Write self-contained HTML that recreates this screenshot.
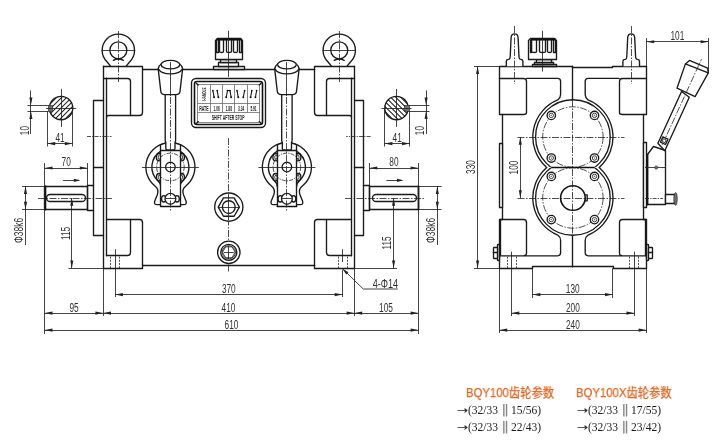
<!DOCTYPE html>
<html><head><meta charset="utf-8"><title>BQY100</title>
<style>
html,body{margin:0;padding:0;background:#fff;}
body{width:720px;height:446px;overflow:hidden;position:relative;font-family:"Liberation Sans","Noto Sans CJK SC",sans-serif;}
svg{position:absolute;left:0;top:0;display:block;}
.k{fill:none;stroke:#1a1a1a;stroke-width:1.35;stroke-linecap:round;stroke-linejoin:round;}
.kk{fill:none;stroke:#111;stroke-width:1.6;stroke-linecap:round;stroke-linejoin:round;}
.kw{fill:#fff;stroke:#1a1a1a;stroke-width:1.35;stroke-linecap:round;stroke-linejoin:round;}
.kk2{fill:none;stroke:#111;stroke-width:2.2;}
.t{fill:none;stroke:#222;stroke-width:0.85;}
.t2{fill:none;stroke:#333;stroke-width:0.55;}
.tg{fill:none;stroke:#6a6a6a;stroke-width:0.8;}
.gd{fill:#777;stroke:none;}
.ht{fill:none;stroke:#222;stroke-width:1.05;}
.ic{fill:none;stroke:#111;stroke-width:1.05;stroke-linecap:round;}
.dot{fill:#111;stroke:none;}
.tw{fill:#fff;stroke:#2a2a2a;stroke-width:0.75;}
.c{fill:none;stroke:#222;stroke-width:0.8;stroke-dasharray:7 1.5 1.5 1.5;}
.cs{fill:none;stroke:#222;stroke-width:0.8;stroke-dasharray:4 1.2 1.2 1.2;}
.h{fill:none;stroke:#222;stroke-width:0.8;stroke-dasharray:2 1.2;}
.ar{fill:#222;stroke:none;}
.g{fill:#707070;stroke:#222;stroke-width:0.6;}
.dt{font-family:"Liberation Sans",sans-serif;fill:#303030;}
.nt{font-family:"Liberation Sans",sans-serif;fill:#222;font-weight:bold;}
.hd{position:absolute;color:#e8641e;font-size:12.8px;line-height:16px;height:16px;white-space:nowrap;font-family:"Liberation Sans","Noto Sans CJK SC",sans-serif;transform-origin:0 0;transform:scaleX(0.885);will-change:transform;-webkit-text-stroke:0.25px #e8641e;}
.ln{position:absolute;color:#1a1a1a;font-size:13px;line-height:16px;height:16px;width:100px;white-space:nowrap;font-family:"Liberation Serif","Noto Serif CJK SC",serif;filter:grayscale(1);}
.ln span{position:absolute;top:0;display:block;transform-origin:0 0;}
.aw{left:0;transform:scaleX(1.3);font-family:"DejaVu Sans","Liberation Serif",sans-serif;font-size:10.5px;}
.p1{left:11.2px;transform:scaleX(0.885);}
.dv{left:43.9px;color:#888;font-family:"DejaVu Sans","Liberation Serif",sans-serif;font-size:12px;transform:scaleX(1.4);}
.p2{left:53.4px;transform:scaleX(0.885);}
</style></head>
<body>
<svg width="720" height="446" viewBox="0 0 720 446" style="filter:grayscale(1)">
<path class="k" d="M103.5 66.2L103.5 268.3"/>
<path class="k" d="M106.5 78.2L106.5 255.8"/>
<path class="k" d="M103.5 66.5L142.5 66.5L142.5 112.5Q142.5 115.5 139.5 115.5L108.5 115.5Q106.5 115.5 106.5 117.5"/>
<path class="k" d="M103.5 78.5L127.5 78.5Q130.5 78.5 130.5 81.5L130.5 115.5"/>
<path class="k" d="M106.5 219.5L139.5 219.5Q142.5 219.5 142.5 222.5L142.5 268.5L103.5 268.5"/>
<path class="k" d="M130.5 219.5L130.5 252.5Q130.5 255.5 127.5 255.5L106.5 255.5"/>
<path class="h" d="M110.5 256.6L110.5 268"/>
<path class="h" d="M119.5 256.6L119.5 268"/>
<path class="t" d="M115.5 249.2L115.5 262"/>
<path class="k" d="M103.5 100.5L93.5 100.5L93.5 235.5L103.5 235.5"/>
<path class="k" d="M93.5 185.5L87.5 185.5L87.5 210.5L93.5 210.5"/>
<path class="cs" d="M87 136.5L111.5 136.5"/>
<path class="k" d="M110.55 66.2L107.15 62 A16.2 16.2 0 1 1 129.55 62L126.15 66.2"/>
<circle class="k" cx="118.35" cy="50.3" r="8.5"/>
<path class="k" d="M113.35 60.4Q118.35 57.6 123.35 60.4"/>
<path class="t" d="M101.55 50.5L135.15 50.5"/>
<path class="c" d="M118.5 31L118.5 82"/>
<path class="k" d="M354.5 66.2L354.5 268.3"/>
<path class="k" d="M351.5 78.2L351.5 255.8"/>
<path class="k" d="M354.5 66.5L314.5 66.5L314.5 112.5Q314.5 115.5 317.5 115.5L349.5 115.5Q351.5 115.5 351.5 117.5"/>
<path class="k" d="M354.5 78.5L329.5 78.5Q326.5 78.5 326.5 81.5L326.5 115.5"/>
<path class="k" d="M351.5 219.5L317.5 219.5Q314.5 219.5 314.5 222.5L314.5 268.5L354.5 268.5"/>
<path class="k" d="M326.5 219.5L326.5 252.5Q326.5 255.5 329.5 255.5L351.5 255.5"/>
<path class="h" d="M347.5 256.6L347.5 268"/>
<path class="h" d="M338.5 256.6L338.5 268"/>
<path class="t" d="M342.5 249.2L342.5 262"/>
<path class="k" d="M354.5 100.5L363.5 100.5L363.5 235.5L354.5 235.5"/>
<path class="k" d="M363.5 185.5L369.5 185.5L369.5 210.5L363.5 210.5"/>
<path class="cs" d="M370.6 136.5L346.1 136.5"/>
<path class="k" d="M331.45 66.2L328.05 62 A16.2 16.2 0 1 1 350.45 62L347.05 66.2"/>
<circle class="k" cx="339.25" cy="50.3" r="8.5"/>
<path class="k" d="M334.25 60.4Q339.25 57.6 344.25 60.4"/>
<path class="t" d="M322.45 50.5L356.05 50.5"/>
<path class="c" d="M339.5 31L339.5 82"/>
<path class="k" d="M142.9 69.5L314.7 69.5"/>
<path class="k" d="M142.9 265.5L314.7 265.5"/>
<rect class="k" x="44.5" y="186.5" width="43" height="23" rx="0"/>
<path class="kk" d="M45.5 186.1L45.5 209.7"/>
<rect class="k" x="46.5" y="194.5" width="39" height="7" rx="3.5"/>
<path class="c" d="M38 198.5L112 198.5"/>
<rect class="k" x="369.5" y="186.5" width="49" height="23" rx="0"/>
<path class="kk" d="M418.5 186.1L418.5 209.7"/>
<rect class="k" x="372.5" y="194.5" width="44" height="7" rx="3.5"/>
<path class="c" d="M345 198.5L425.5 198.5"/>
<path class="k" d="M93.8 167.5L103.2 167.5"/>
<path class="k" d="M354.4 167.5L363.8 167.5"/>
<rect class="kw" x="213.5" y="66.5" width="31" height="3" rx="0"/>
<rect class="kw" x="218.5" y="62.5" width="20" height="4" rx="0"/>
<rect class="kw" x="220.5" y="59.5" width="16" height="3" rx="0"/>
<path class="kw" d="M215.5 59.5L215.5 40.5L217.5 38.5L240.5 38.5L242.5 40.5L242.5 59.5Z"/>
<path class="kk2" d="M216.5 39.5L241.5 39.5"/>
<path class="k" d="M216.5 40.5L216.5 52.5Q216.5 52.5 217.5 52.5Q218.5 52.5 218.5 52.5L218.5 40.5"/>
<path class="k" d="M219.5 40.5L219.5 51.5Q219.5 52.5 221.5 52.5Q223.5 52.5 223.5 51.5L223.5 40.5"/>
<path class="k" d="M226.5 40.5L226.5 51.5Q226.5 52.5 228.5 52.5Q231.5 52.5 231.5 51.5L231.5 40.5"/>
<path class="k" d="M233.5 40.5L233.5 51.5Q233.5 52.5 235.5 52.5Q237.5 52.5 237.5 51.5L237.5 40.5"/>
<path class="k" d="M239.5 40.5L239.5 52.5Q239.5 52.5 240.5 52.5Q241.5 52.5 241.5 52.5L241.5 40.5"/>
<path class="t" d="M228.5 30.8L228.5 76.8"/>
<rect class="kw" x="191.5" y="78.5" width="74" height="49" rx="4.5"/>
<rect class="kk" x="194.5" y="81.5" width="68" height="43" rx="2.5"/>
<rect class="tg" x="197.5" y="84.5" width="62" height="38" rx="0"/>
<path class="tg" d="M210.5 84.2L210.5 112.4"/>
<path class="tg" d="M222.5 84.2L222.5 112.4"/>
<path class="tg" d="M234.5 84.2L234.5 112.4"/>
<path class="tg" d="M247.5 84.2L247.5 112.4"/>
<path class="tg" d="M197.3 103.5L259.7 103.5"/>
<path class="tg" d="M197.3 112.5L259.7 112.5"/>
<path class="k" d="M196.6 83.5L198.2 85.1"/>
<path class="k" d="M260.9 83.5L259.3 85.1"/>
<path class="k" d="M196.6 123.2L198.2 121.6"/>
<path class="k" d="M260.9 123.2L259.3 121.6"/>
<text class="nt" transform="translate(206.2 94) rotate(-90) scale(0.52 1)" font-size="6.2" text-anchor="middle">HANDLE</text>
<text class="nt" transform="translate(203.9 110.5) scale(0.53 1)" font-size="6.8" text-anchor="middle">RATE</text>
<text class="nt" transform="translate(216.6 110.5) scale(0.47 1)" font-size="6.8" text-anchor="middle">1.06</text>
<text class="nt" transform="translate(228.8 110.5) scale(0.47 1)" font-size="6.8" text-anchor="middle">1.88</text>
<text class="nt" transform="translate(241.1 110.5) scale(0.47 1)" font-size="6.8" text-anchor="middle">3.34</text>
<text class="nt" transform="translate(253.5 110.5) scale(0.47 1)" font-size="6.8" text-anchor="middle">5.91</text>
<text class="nt" transform="translate(228.2 119.9) scale(0.545 1)" font-size="6.4" text-anchor="middle">SHIFT AFTER STOP</text>
<path class="ic" d="M212.9 90.6L214.1 97.3"/>
<circle class="dot" cx="212.9" cy="90.6" r="0.85"/>
<circle class="dot" cx="214.1" cy="97.3" r="0.95"/>
<path class="ic" d="M217.2 90.6L218.4 97.3"/>
<circle class="dot" cx="217.2" cy="90.6" r="0.85"/>
<circle class="dot" cx="218.4" cy="97.3" r="0.95"/>
<path class="ic" d="M227.5 90.6L226.2 97.3"/>
<circle class="dot" cx="227.5" cy="90.6" r="0.85"/>
<circle class="dot" cx="226.2" cy="97.3" r="0.95"/>
<path class="ic" d="M229.9 90.6L231.2 97.3"/>
<circle class="dot" cx="229.9" cy="90.6" r="0.85"/>
<circle class="dot" cx="231.2" cy="97.3" r="0.95"/>
<path class="ic" d="M227.5 90.5L229.9 90.5"/>
<path class="ic" d="M237 90.6L238.3 97.3"/>
<circle class="dot" cx="237" cy="90.6" r="0.85"/>
<circle class="dot" cx="238.3" cy="97.3" r="0.95"/>
<path class="ic" d="M244.6 90.6L243.3 97.3"/>
<circle class="dot" cx="244.6" cy="90.6" r="0.85"/>
<circle class="dot" cx="243.3" cy="97.3" r="0.95"/>
<path class="ic" d="M251.8 90.6L250.6 97.3"/>
<circle class="dot" cx="251.8" cy="90.6" r="0.85"/>
<circle class="dot" cx="250.6" cy="97.3" r="0.95"/>
<path class="ic" d="M256.6 90.6L255.4 97.3"/>
<circle class="dot" cx="256.6" cy="90.6" r="0.85"/>
<circle class="dot" cx="255.4" cy="97.3" r="0.95"/>
<path class="k" d="M165.4 143.1 A24.4 24.4 0 0 0 155.2 186.2 Q159.1 189.3 157.4 194.5 L154.6 201.5 Q154 204.6 156.9 204.6 L183.9 204.6 Q186.8 204.6 186.2 201.5 L183.4 194.5 Q181.7 189.3 185.6 186.2 A24.4 24.4 0 0 0 175.4 143.1"/>
<path class="k" d="M160.8 151.2 A18.5 18.5 0 0 0 157.8 180.6 Q160.8 183 160.8 187"/>
<path class="k" d="M180 151.2 A18.5 18.5 0 0 1 183 180.6 Q180 183 180 187"/>
<ellipse class="k" cx="159.2" cy="157.2" rx="2.8" ry="3.7" />
<ellipse class="t" cx="159.5" cy="157.2" rx="1.3" ry="2.2" />
<ellipse class="k" cx="181.6" cy="157.2" rx="2.8" ry="3.7" />
<ellipse class="t" cx="181.3" cy="157.2" rx="1.3" ry="2.2" />
<ellipse class="k" cx="159.2" cy="177.2" rx="2.8" ry="3.7" />
<ellipse class="t" cx="159.5" cy="177.2" rx="1.3" ry="2.2" />
<ellipse class="k" cx="181.6" cy="177.2" rx="2.8" ry="3.7" />
<ellipse class="t" cx="181.3" cy="177.2" rx="1.3" ry="2.2" />
<path class="kw" d="M160.8 206.4L160.8 144.6A24.4 24.4 0 0 1 180 144.6L180 206.4" style="stroke:none"/>
<path class="k" d="M160.5 144.6L160.5 206.4"/>
<path class="k" d="M180.5 144.6L180.5 206.4"/>
<path class="k" d="M160.8 144.6A24.4 24.4 0 0 1 180 144.6"/>
<path class="k" d="M160.8 150.5L180 150.5"/>
<path class="kk" d="M160.8 206.5L180 206.5"/>
<circle class="cs" cx="170.4" cy="167" r="13.8"/>
<circle class="kw" cx="170.4" cy="167" r="4.8"/>
<path class="t" d="M141.9 167.5L198.9 167.5"/>
<path class="kw" d="M165.2 94 L165.2 141 L165.8 142 L165.8 148.4 Q165.8 149.8 167.2 149.8 L173.6 149.8 Q175 149.8 175 148.4 L175 142 L175.6 141 L175.6 94"/>
<path class="kw" d="M158.2 68.8 Q158.8 65.6 161.2 64 L179.6 64 Q182 65.6 182.6 68.8 L180 91.4 Q179.6 94.6 175.9 94.6 L164.9 94.6 Q161.2 94.6 160.8 91.4 Z"/>
<ellipse class="kw" cx="170.4" cy="64.6" rx="9.4" ry="4.3" />
<path class="k" d="M158.2 68.8 Q161.4 73.8 170.4 73.8 Q179.4 73.8 182.6 68.8"/>
<ellipse class="k" cx="163.8" cy="198.8" rx="2.3" ry="3.2" />
<ellipse class="k" cx="177" cy="198.8" rx="2.3" ry="3.2" />
<circle class="kw" cx="170.4" cy="198.8" r="5.4"/>
<path class="t" d="M165.6 198.5L175.2 198.5"/>
<path class="t" d="M170.5 62L170.5 96"/>
<path class="c" d="M170.5 97L170.5 212"/>
<path class="k" d="M281.9 143.1 A24.4 24.4 0 0 0 271.7 186.2 Q275.6 189.3 273.9 194.5 L271.1 201.5 Q270.5 204.6 273.4 204.6 L300.4 204.6 Q303.3 204.6 302.7 201.5 L299.9 194.5 Q298.2 189.3 302.1 186.2 A24.4 24.4 0 0 0 291.9 143.1"/>
<path class="k" d="M277.3 151.2 A18.5 18.5 0 0 0 274.3 180.6 Q277.3 183 277.3 187"/>
<path class="k" d="M296.5 151.2 A18.5 18.5 0 0 1 299.5 180.6 Q296.5 183 296.5 187"/>
<ellipse class="k" cx="275.7" cy="157.2" rx="2.8" ry="3.7" />
<ellipse class="t" cx="276" cy="157.2" rx="1.3" ry="2.2" />
<ellipse class="k" cx="298.1" cy="157.2" rx="2.8" ry="3.7" />
<ellipse class="t" cx="297.8" cy="157.2" rx="1.3" ry="2.2" />
<ellipse class="k" cx="275.7" cy="177.2" rx="2.8" ry="3.7" />
<ellipse class="t" cx="276" cy="177.2" rx="1.3" ry="2.2" />
<ellipse class="k" cx="298.1" cy="177.2" rx="2.8" ry="3.7" />
<ellipse class="t" cx="297.8" cy="177.2" rx="1.3" ry="2.2" />
<path class="kw" d="M277.3 206.4L277.3 144.6A24.4 24.4 0 0 1 296.5 144.6L296.5 206.4" style="stroke:none"/>
<path class="k" d="M277.5 144.6L277.5 206.4"/>
<path class="k" d="M296.5 144.6L296.5 206.4"/>
<path class="k" d="M277.3 144.6A24.4 24.4 0 0 1 296.5 144.6"/>
<path class="k" d="M277.3 150.5L296.5 150.5"/>
<path class="kk" d="M277.3 206.5L296.5 206.5"/>
<circle class="cs" cx="286.9" cy="167" r="13.8"/>
<circle class="kw" cx="286.9" cy="167" r="4.8"/>
<path class="t" d="M258.4 167.5L315.4 167.5"/>
<path class="kw" d="M281.7 94 L281.7 141 L282.3 142 L282.3 148.4 Q282.3 149.8 283.7 149.8 L290.1 149.8 Q291.5 149.8 291.5 148.4 L291.5 142 L292.1 141 L292.1 94"/>
<path class="kw" d="M274.7 68.8 Q275.3 65.6 277.7 64 L296.1 64 Q298.5 65.6 299.1 68.8 L296.5 91.4 Q296.1 94.6 292.4 94.6 L281.4 94.6 Q277.7 94.6 277.3 91.4 Z"/>
<ellipse class="kw" cx="286.9" cy="64.6" rx="9.4" ry="4.3" />
<path class="k" d="M274.7 68.8 Q277.9 73.8 286.9 73.8 Q295.9 73.8 299.1 68.8"/>
<ellipse class="k" cx="280.3" cy="198.8" rx="2.3" ry="3.2" />
<ellipse class="k" cx="293.5" cy="198.8" rx="2.3" ry="3.2" />
<circle class="kw" cx="286.9" cy="198.8" r="5.4"/>
<path class="t" d="M282.1 198.5L291.7 198.5"/>
<path class="t" d="M286.5 62L286.5 96"/>
<path class="c" d="M286.5 97L286.5 212"/>
<path class="c" d="M228.5 138L228.5 272"/>
<circle class="kw" cx="228.8" cy="207.1" r="14.1"/>
<path class="k" d="M239.4 207.1L234.1 216.28L223.5 216.28L218.2 207.1L223.5 197.92L234.1 197.92Z"/>
<circle class="k" cx="228.8" cy="207.1" r="6.4"/>
<path class="t" d="M218.2 207.5L239.4 207.5"/>
<path class="t" d="M228.5 194.1L228.5 220.1"/>
<circle class="kw" cx="228.8" cy="252.3" r="11.2"/>
<circle class="k" cx="228.8" cy="252.3" r="8"/>
<path class="t" d="M235.1 252.3L231.95 257.76L225.65 257.76L222.5 252.3L225.65 246.84L231.95 246.84Z"/>
<circle class="t" cx="228.8" cy="252.3" r="6.6"/>
<path class="t" d="M223.8 252.5L233.8 252.5"/>
<path class="t" d="M228.5 246L228.5 259"/>
<clipPath id="kc0"><circle cx="61.1" cy="108" r="11.7"/></clipPath>
<path class="ht" clip-path="url(#kc0)" d="M7.1 122L35.1 94M12.1 122L40.1 94M17.1 122L45.1 94M22.1 122L50.1 94M27.1 122L55.1 94M32.1 122L60.1 94M37.1 122L65.1 94M42.1 122L70.1 94M47.1 122L75.1 94M52.1 122L80.1 94M57.1 122L85.1 94M62.1 122L90.1 94M67.1 122L95.1 94M72.1 122L100.1 94M77.1 122L105.1 94M82.1 122L110.1 94M87.1 122L115.1 94"/>
<circle class="k" cx="61.1" cy="108" r="11.7"/>
<rect class="g" x="48.5" y="105.5" width="4" height="6" rx="0"/>
<path class="t" d="M46.1 108.5L76.1 108.5"/>
<path class="t" d="M61.5 89L61.5 127"/>
<clipPath id="kc1"><circle cx="396.5" cy="108" r="11.7"/></clipPath>
<path class="ht" clip-path="url(#kc1)" d="M342.5 94L370.5 122M347.5 94L375.5 122M352.5 94L380.5 122M357.5 94L385.5 122M362.5 94L390.5 122M367.5 94L395.5 122M372.5 94L400.5 122M377.5 94L405.5 122M382.5 94L410.5 122M387.5 94L415.5 122M392.5 94L420.5 122M397.5 94L425.5 122M402.5 94L430.5 122M407.5 94L435.5 122M412.5 94L440.5 122M417.5 94L445.5 122M422.5 94L450.5 122"/>
<circle class="k" cx="396.5" cy="108" r="11.7"/>
<rect class="g" x="404.5" y="105.5" width="5" height="6" rx="0"/>
<path class="t" d="M381.5 108.5L411.5 108.5"/>
<path class="t" d="M396.5 89L396.5 127"/>
<path class="t" d="M47.5 111L47.5 146.5"/>
<path class="t" d="M72.5 108L72.5 146.5"/>
<path class="t" d="M47.4 143.5L72.6 143.5"/>
<path class="ar" d="M47.4 143.6L55.2 142.05L55.2 145.15Z"/>
<path class="ar" d="M72.6 143.6L64.8 145.15L64.8 142.05Z"/>
<text class="dt" transform="translate(60 141.9) scale(0.62 1)" font-size="13.4" text-anchor="middle">41</text>
<path class="t" d="M384.5 108L384.5 146.5"/>
<path class="t" d="M409.5 111L409.5 146.5"/>
<path class="t" d="M384.6 143.5L409.8 143.5"/>
<path class="ar" d="M384.6 143.6L392.4 142.05L392.4 145.15Z"/>
<path class="ar" d="M409.8 143.6L402 145.15L402 142.05Z"/>
<text class="dt" transform="translate(397.2 141.9) scale(0.62 1)" font-size="13.4" text-anchor="middle">41</text>
<path class="t" d="M27.5 105.5L48 105.5"/>
<path class="t" d="M27.5 111.5L48 111.5"/>
<path class="t" d="M30.5 90.4L30.5 134"/>
<path class="ar" d="M30.9 105.2L29.35 97.4L32.45 97.4Z"/>
<path class="ar" d="M30.9 111.1L32.45 118.9L29.35 118.9Z"/>
<text class="dt" transform="translate(28.8 130.6) rotate(-90) scale(0.62 1)" font-size="13.4" text-anchor="middle">10</text>
<path class="t" d="M409 105.5L429.5 105.5"/>
<path class="t" d="M409 111.5L429.5 111.5"/>
<path class="t" d="M426.5 90.4L426.5 134"/>
<path class="ar" d="M426.1 105.2L424.55 97.4L427.65 97.4Z"/>
<path class="ar" d="M426.1 111.1L427.65 118.9L424.55 118.9Z"/>
<text class="dt" transform="translate(424 130.6) rotate(-90) scale(0.62 1)" font-size="13.4" text-anchor="middle">10</text>
<path class="t" d="M44.5 163L44.5 334"/>
<path class="t" d="M87.5 163L87.5 185"/>
<path class="t" d="M44.7 168.5L87.6 168.5"/>
<path class="ar" d="M44.7 168L52.5 166.45L52.5 169.55Z"/>
<path class="ar" d="M87.6 168L79.8 169.55L79.8 166.45Z"/>
<text class="dt" transform="translate(66.15 166) scale(0.62 1)" font-size="13.4" text-anchor="middle">70</text>
<path class="t" d="M62.9 180.5L79 180.5"/>
<path class="ar" d="M80.4 180.3L73.8 181.9L73.8 178.7Z"/>
<path class="t" d="M369.5 163L369.5 185"/>
<path class="t" d="M418.5 163L418.5 334"/>
<path class="t" d="M369.5 168.5L418.4 168.5"/>
<path class="ar" d="M369.5 168L377.3 166.45L377.3 169.55Z"/>
<path class="ar" d="M418.4 168L410.6 169.55L410.6 166.45Z"/>
<text class="dt" transform="translate(393.95 166) scale(0.62 1)" font-size="13.4" text-anchor="middle">80</text>
<path class="t" d="M386.4 180.5L402 180.5"/>
<path class="ar" d="M403.6 180.3L397 181.9L397 178.7Z"/>
<path class="t" d="M22 186.5L44.7 186.5"/>
<path class="t" d="M22 209.5L44.7 209.5"/>
<path class="t" d="M25.5 186.1L25.5 245"/>
<path class="ar" d="M25.5 186.3L27.05 194.1L23.95 194.1Z"/>
<path class="ar" d="M25.5 209.5L23.95 201.7L27.05 201.7Z"/>
<text class="dt" transform="translate(23.4 230.4) rotate(-90) scale(0.63 1)" font-size="13.4" text-anchor="middle">Φ38k6</text>
<path class="t" d="M418.6 186.5L441.5 186.5"/>
<path class="t" d="M418.6 209.5L441.5 209.5"/>
<path class="t" d="M437.5 186.1L437.5 245"/>
<path class="ar" d="M437.3 186.3L438.85 194.1L435.75 194.1Z"/>
<path class="ar" d="M437.3 209.5L435.75 201.7L438.85 201.7Z"/>
<text class="dt" transform="translate(435.2 230.4) rotate(-90) scale(0.63 1)" font-size="13.4" text-anchor="middle">Φ38k6</text>
<path class="t" d="M71.5 198L71.5 268.3"/>
<path class="ar" d="M71.8 198L73.35 205.8L70.25 205.8Z"/>
<path class="ar" d="M71.8 268.3L70.25 260.5L73.35 260.5Z"/>
<text class="dt" transform="translate(69.6 233.5) rotate(-90) scale(0.62 1)" font-size="13.4" text-anchor="middle">115</text>
<path class="t" d="M68.5 268.5L103 268.5"/>
<path class="t" d="M393.5 198L393.5 268.3"/>
<path class="ar" d="M393.6 198L395.15 205.8L392.05 205.8Z"/>
<path class="ar" d="M393.6 268.3L392.05 260.5L395.15 260.5Z"/>
<text class="dt" transform="translate(390.6 243) rotate(-90) scale(0.62 1)" font-size="13.4" text-anchor="middle">115</text>
<path class="t" d="M354.2 268.5L397 268.5"/>
<path class="t" d="M115.5 262L115.5 297"/>
<path class="t" d="M342.5 270L342.5 297"/>
<path class="t" d="M115.1 294.5L342.5 294.5"/>
<path class="ar" d="M115.1 294.6L122.9 293.05L122.9 296.15Z"/>
<path class="ar" d="M342.5 294.6L334.7 296.15L334.7 293.05Z"/>
<text class="dt" transform="translate(228.8 293) scale(0.62 1)" font-size="13.4" text-anchor="middle">370</text>
<path class="t" d="M103.5 268.2L103.5 316"/>
<path class="t" d="M354.5 268.2L354.5 316"/>
<path class="t" d="M103.2 313.5L354.4 313.5"/>
<path class="ar" d="M103.2 313.1L111 311.55L111 314.65Z"/>
<path class="ar" d="M354.4 313.1L346.6 314.65L346.6 311.55Z"/>
<text class="dt" transform="translate(228.5 311.5) scale(0.62 1)" font-size="13.4" text-anchor="middle">410</text>
<path class="t" d="M44.7 330.5L418.4 330.5"/>
<path class="ar" d="M44.7 330.1L52.5 328.55L52.5 331.65Z"/>
<path class="ar" d="M418.4 330.1L410.6 331.65L410.6 328.55Z"/>
<text class="dt" transform="translate(231.5 328.5) scale(0.62 1)" font-size="13.4" text-anchor="middle">610</text>
<path class="t" d="M44.7 313.5L103.2 313.5"/>
<path class="ar" d="M44.7 313.1L52.5 311.55L52.5 314.65Z"/>
<path class="ar" d="M103.2 313.1L95.4 314.65L95.4 311.55Z"/>
<text class="dt" transform="translate(74 311.5) scale(0.62 1)" font-size="13.4" text-anchor="middle">95</text>
<path class="t" d="M354.4 313.5L418.4 313.5"/>
<path class="ar" d="M354.4 313.1L362.2 311.55L362.2 314.65Z"/>
<path class="ar" d="M418.4 313.1L410.6 314.65L410.6 311.55Z"/>
<text class="dt" transform="translate(386 311.5) scale(0.62 1)" font-size="13.4" text-anchor="middle">105</text>
<path class="t" d="M342.2 268.4L363.3 289L397.8 289"/>
<path class="ar" d="M342.2 268.4L348.4 272.36L346.31 274.5Z"/>
<text class="dt" transform="translate(385.4 287.6) scale(0.68 1)" font-size="13.4" text-anchor="middle">4-Φ14</text>
<path class="k" d="M572.5 66.5L499.5 66.5L499.5 114.5L502.5 114.5L502.5 219.5L499.5 219.5L499.5 268.5L532.5 268.5L532.5 266.5L572.5 266.5"/>
<path class="k" d="M499.5 78.5L523.5 78.5Q526.5 78.5 526.5 81.5L526.5 112.5Q526.5 114.5 523.5 114.5L502.5 114.5"/>
<path class="k" d="M526.6 78.3L557.6 78.3Q560.6 78.3 560.6 81.3L560.6 94.8Q560.6 97.8 557.7 99.93 A40.2 40.2 0 0 0 545.9 166.78 Q547.5 167.5 545.9 168.22 A40.2 40.2 0 0 0 557.7 235.07 Q560.6 237.2 560.6 240.2 L560.6 252.8Q560.6 255.8 557.6 255.8L499.4 255.8"/>
<path class="k" d="M500.5 255.5L500.5 219.5L523.5 219.5Q526.5 219.5 526.5 222.5L526.5 253.5Q526.5 255.5 524.5 255.5"/>
<path class="h" d="M507.5 256.6L507.5 268"/>
<path class="h" d="M516.5 256.6L516.5 268"/>
<path class="t" d="M511.5 251.6L511.5 316"/>
<rect class="kw" x="497.5" y="244.5" width="2" height="16" rx="0.6"/>
<rect class="kw" x="493.5" y="247.5" width="4" height="11" rx="0.4"/>
<path class="k" d="M493.3 252.5L497.4 252.5"/>
<path class="kw" d="M506.3 66.2L506.3 61.6Q506.3 59.6 508.2 59.4L509.2 59.2Q510 58.8 510.2 56.8L511.1 37.6Q511.4 33.8 514.6 33.8Q517.8 33.8 518.1 37.6L519 56.8Q519.2 58.8 520 59.2L521 59.4Q522.9 59.6 522.9 61.6L522.9 66.2"/>
<path class="c" d="M514.5 26L514.5 84"/>
<path class="k" d="M572.5 67.5L612.5 67.5L612.5 66.5L646.5 66.5L646.5 114.5L643.5 114.5L643.5 219.5L646.5 219.5L646.5 268.5L613.5 268.5L613.5 266.5L572.5 266.5"/>
<path class="k" d="M646.5 78.5L622.5 78.5Q619.5 78.5 619.5 81.5L619.5 112.5Q619.5 114.5 622.5 114.5L643.5 114.5"/>
<path class="k" d="M619.2 78.3L588.2 78.3Q585.2 78.3 585.2 81.3L585.2 94.8Q585.2 97.8 588.1 99.93 A40.2 40.2 0 0 1 599.9 166.78 Q598.3 167.5 599.9 168.22 A40.2 40.2 0 0 1 588.1 235.07 Q585.2 237.2 585.2 240.2 L585.2 252.8Q585.2 255.8 588.2 255.8L646.4 255.8"/>
<path class="k" d="M645.5 255.5L645.5 219.5L622.5 219.5Q619.5 219.5 619.5 222.5L619.5 253.5Q619.5 255.5 621.5 255.5"/>
<path class="h" d="M638.5 256.6L638.5 268"/>
<path class="h" d="M629.5 256.6L629.5 268"/>
<path class="t" d="M634.5 251.6L634.5 316"/>
<rect class="kw" x="646.5" y="244.5" width="2" height="16" rx="0.6"/>
<rect class="kw" x="648.5" y="247.5" width="4" height="11" rx="0.4"/>
<path class="k" d="M652.5 252.5L648.4 252.5"/>
<path class="kw" d="M622.9 66.2L622.9 61.6Q622.9 59.6 624.8 59.4L625.8 59.2Q626.6 58.8 626.8 56.8L627.7 37.6Q628 33.8 631.2 33.8Q634.4 33.8 634.7 37.6L635.6 56.8Q635.8 58.8 636.6 59.2L637.6 59.4Q639.5 59.6 639.5 61.6L639.5 66.2"/>
<path class="c" d="M631.5 26L631.5 84"/>
<path class="k" d="M572.5 66.2L572.5 99.8"/>
<path class="k" d="M572.5 235.2L572.5 266.7"/>
<rect class="kw" x="499.5" y="143.5" width="3" height="64" rx="0"/>
<clipPath id="cu"><rect x="520" y="90" width="110" height="77.3"/></clipPath><clipPath id="cl"><rect x="520" y="167.7" width="110" height="80"/></clipPath>
<circle class="k" cx="572.9" cy="137" r="37.3" clip-path="url(#cu)"/>
<circle class="k" cx="572.9" cy="198" r="37.3" clip-path="url(#cl)"/>
<circle class="c" cx="572.9" cy="137" r="30.2" clip-path="url(#cu)"/>
<circle class="c" cx="572.9" cy="198" r="30.2" clip-path="url(#cl)"/>
<path class="kk" d="M551.9 167.5L593.9 167.5"/>
<circle class="kw" cx="551.3" cy="115.4" r="4.2"/>
<circle class="t" cx="551.3" cy="115.4" r="2.2"/>
<circle class="gd" cx="551.3" cy="115.4" r="0.8"/>
<circle class="kw" cx="551.3" cy="158" r="4.2"/>
<circle class="t" cx="551.3" cy="158" r="2.2"/>
<circle class="gd" cx="551.3" cy="158" r="0.8"/>
<circle class="kw" cx="594.5" cy="115.4" r="4.2"/>
<circle class="t" cx="594.5" cy="115.4" r="2.2"/>
<circle class="gd" cx="594.5" cy="115.4" r="0.8"/>
<circle class="kw" cx="594.5" cy="158" r="4.2"/>
<circle class="t" cx="594.5" cy="158" r="2.2"/>
<circle class="gd" cx="594.5" cy="158" r="0.8"/>
<circle class="kw" cx="551.3" cy="176.4" r="4.2"/>
<circle class="t" cx="551.3" cy="176.4" r="2.2"/>
<circle class="gd" cx="551.3" cy="176.4" r="0.8"/>
<circle class="kw" cx="551.3" cy="219.6" r="4.2"/>
<circle class="t" cx="551.3" cy="219.6" r="2.2"/>
<circle class="gd" cx="551.3" cy="219.6" r="0.8"/>
<circle class="kw" cx="594.5" cy="176.4" r="4.2"/>
<circle class="t" cx="594.5" cy="176.4" r="2.2"/>
<circle class="gd" cx="594.5" cy="176.4" r="0.8"/>
<circle class="kw" cx="594.5" cy="219.6" r="4.2"/>
<circle class="t" cx="594.5" cy="219.6" r="2.2"/>
<circle class="gd" cx="594.5" cy="219.6" r="0.8"/>
<path class="c" d="M572.5 100L572.5 236"/>
<path class="c" d="M517.5 137.5L624.5 137.5"/>
<path class="c" d="M517.5 198.5L624.5 198.5"/>
<circle class="kk" cx="572.9" cy="198" r="12.3"/>
<path class="k" d="M584.8 194.8L587.2 194.8L587.2 200.8L584.8 200.8"/>
<path class="t" d="M520.5 137L520.5 198"/>
<path class="ar" d="M520.3 137L521.85 144.8L518.75 144.8Z"/>
<path class="ar" d="M520.3 198L518.75 190.2L521.85 190.2Z"/>
<text class="dt" transform="translate(517.6 167.5) rotate(-90) scale(0.62 1)" font-size="13.4" text-anchor="middle">100</text>
<path class="t" d="M474 66.5L499.4 66.5"/>
<path class="t" d="M474 268.5L499.4 268.5"/>
<path class="t" d="M477.5 66.2L477.5 268.2"/>
<path class="ar" d="M477.6 66.2L479.15 74L476.05 74Z"/>
<path class="ar" d="M477.6 268.2L476.05 260.4L479.15 260.4Z"/>
<text class="dt" transform="translate(475 167) rotate(-90) scale(0.62 1)" font-size="13.4" text-anchor="middle">330</text>
<path class="t" d="M532.5 268.2L532.5 298"/>
<path class="t" d="M612.5 268.2L612.5 298"/>
<path class="t" d="M532.6 294.5L612.8 294.5"/>
<path class="ar" d="M532.6 294.6L540.4 293.05L540.4 296.15Z"/>
<path class="ar" d="M612.8 294.6L605 296.15L605 293.05Z"/>
<text class="dt" transform="translate(572.7 293) scale(0.62 1)" font-size="13.4" text-anchor="middle">130</text>
<path class="t" d="M511.5 313.5L634.3 313.5"/>
<path class="ar" d="M511.5 313.1L519.3 311.55L519.3 314.65Z"/>
<path class="ar" d="M634.3 313.1L626.5 314.65L626.5 311.55Z"/>
<text class="dt" transform="translate(572.9 311.5) scale(0.62 1)" font-size="13.4" text-anchor="middle">200</text>
<path class="t" d="M499.5 268.2L499.5 333"/>
<path class="t" d="M646.5 268.2L646.5 333"/>
<path class="t" d="M499.4 330.5L646.4 330.5"/>
<path class="ar" d="M499.4 330.1L507.2 328.55L507.2 331.65Z"/>
<path class="ar" d="M646.4 330.1L638.6 331.65L638.6 328.55Z"/>
<text class="dt" transform="translate(572.9 328.5) scale(0.62 1)" font-size="13.4" text-anchor="middle">240</text>
<path class="t" d="M646.5 38L646.5 66.2"/>
<path class="t" d="M708.5 38L708.5 72"/>
<path class="t" d="M646.4 41.5L708.4 41.5"/>
<path class="ar" d="M646.4 41.8L654.2 40.25L654.2 43.35Z"/>
<path class="ar" d="M708.4 41.8L700.6 43.35L700.6 40.25Z"/>
<text class="dt" transform="translate(677.4 39.6) scale(0.62 1)" font-size="13.4" text-anchor="middle">101</text>
<rect class="kw" x="532.5" y="64.5" width="24" height="2" rx="0"/>
<rect class="kw" x="534.5" y="62.5" width="19" height="2" rx="0"/>
<rect class="kw" x="536.5" y="59.5" width="15" height="3" rx="0"/>
<path class="kw" d="M528.5 59.5L528.5 40.5L530.5 38.5L554.5 38.5L556.5 40.5L556.5 59.5Z"/>
<path class="kk2" d="M530.5 39.5L555.5 39.5"/>
<path class="k" d="M530.5 40.5L530.5 52.5Q530.5 52.5 531.5 52.5Q531.5 52.5 531.5 52.5L531.5 40.5"/>
<path class="k" d="M531.5 40.5L531.5 51.5Q531.5 52.5 534.5 52.5Q536.5 52.5 536.5 51.5L536.5 40.5"/>
<path class="k" d="M539.5 40.5L539.5 51.5Q539.5 52.5 542.5 52.5Q545.5 52.5 545.5 51.5L545.5 40.5"/>
<path class="k" d="M547.5 40.5L547.5 51.5Q547.5 52.5 549.5 52.5Q551.5 52.5 551.5 51.5L551.5 40.5"/>
<path class="k" d="M553.5 40.5L553.5 52.5Q553.5 52.5 554.5 52.5Q555.5 52.5 555.5 52.5L555.5 40.5"/>
<path class="t" d="M542.5 30.8L542.5 71.5"/>
<rect class="kw" x="643.5" y="142.5" width="3" height="65" rx="0"/>
<path class="kw" d="M653.5 146.5L665.5 150.5L665.5 204.5L647.5 204.5L647.5 154.5Z"/>
<path class="kk" d="M647.5 154.6L647.5 204.8"/>
<path class="kw" d="M657.89 143.19L681.58 91.45L689.29 97.18L664.77 150.74Z"/>
<path class="kw" d="M685.4 63.9L689.5 60.4L707.6 68.1L708.3 72.9L695.1 96.6L677 88.2Z"/>
<path class="k" d="M685.4 63.9L708.3 72.9"/>
<path class="c" d="M662.33 144.78L701.46 59.31"/>
<path class="kw" d="M660.45 142.16L662.87 136.89L667.96 139.22L665.54 144.49Z"/>
<path class="t" d="M662.22 141.43L663.47 138.7L666.19 139.95L664.95 142.68Z"/>
<rect class="kw" x="665.5" y="194.5" width="9" height="9" rx="0"/>
<ellipse class="g" cx="675.6" cy="198.9" rx="1.7" ry="6.4" />
<path class="cs" d="M645 198.5L663 198.5"/>
<path class="t" d="M645 167.5L665 167.5"/>
<circle class="g" cx="656.2" cy="167.5" r="1.6"/>
</svg>
<div class="hd" style="left:466.4px;top:384.6px;">BQY100齿轮参数</div>
<div class="ln" style="left:457.3px;top:402px;"><span class="aw">→</span><span class="p1">(32/33 </span><span class="dv">‖</span><span class="p2"> 15/56)</span></div>
<div class="ln" style="left:457.3px;top:419px;"><span class="aw">→</span><span class="p1">(32/33 </span><span class="dv">‖</span><span class="p2"> 22/43)</span></div>
<div class="hd" style="left:576.2px;top:384.6px;">BQY100X齿轮参数</div>
<div class="ln" style="left:577.3px;top:402px;"><span class="aw">→</span><span class="p1">(32/33 </span><span class="dv">‖</span><span class="p2"> 17/55)</span></div>
<div class="ln" style="left:577.3px;top:419px;"><span class="aw">→</span><span class="p1">(32/33 </span><span class="dv">‖</span><span class="p2"> 23/42)</span></div>
</body></html>
